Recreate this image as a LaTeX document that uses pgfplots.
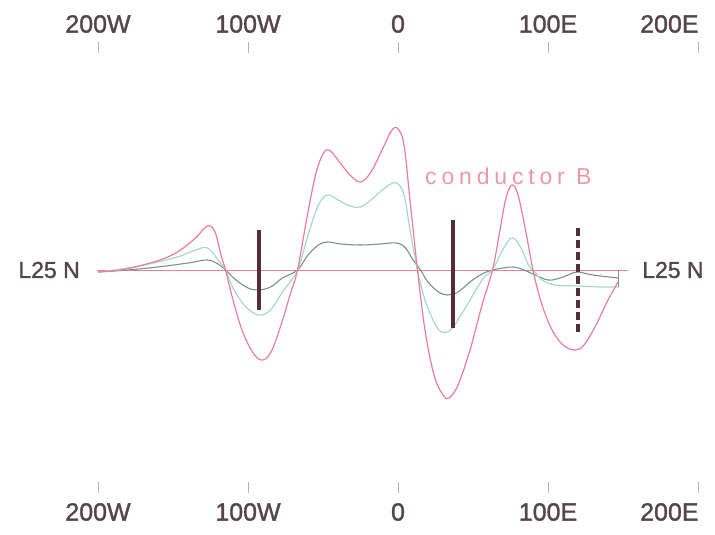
\documentclass[border=0pt]{standalone}
\usepackage{fontspec}
\setmainfont{Liberation Sans}
\newfontfamily\labfont[FakeBold=1.3]{Liberation Sans}
\newfontfamily\condfont[LetterSpace=21]{Liberation Sans}
\usepackage{pgfplots}
\pgfplotsset{compat=1.18}
\definecolor{pinkc}{RGB}{236,125,155}
\definecolor{txtpink}{RGB}{238,150,172}
\definecolor{mintc}{RGB}{165,218,198}
\definecolor{grayc}{RGB}{125,145,135}
\definecolor{barc}{RGB}{85,45,60}
\definecolor{labc}{RGB}{85,68,76}
\definecolor{tickc}{RGB}{185,178,182}
\begin{document}
\begin{tikzpicture}
\begin{axis}[
  x=1.5bp, y=1bp,
  xmin=-265.333, xmax=211.333, ymin=-265, ymax=270,
  axis lines=none, clip=false,
]
\path (axis cs:-265.333,-265) coordinate (BL);
\path (axis cs:211.333,270) coordinate (TR);
% baseline L25 N
\addplot[pinkc, line width=0.8bp] coordinates {(-201,0) (153.3,0)};
% small curve
\addplot[grayc, line width=1.1bp, smooth, tension=0.6] coordinates {
(-200,-2) (-180,0) (-160,3) (-140,7) (-127,10) (-120,6) (-115,0) (-108,-10) (-100,-18) (-93,-20) (-85,-17) (-77,-8) (-67,0) (-60,15) (-53,25) (-47,28) (-38,26) (-25,25) (-12,26) (-1,27) (5,22) (10,10) (15,0) (20,-12) (27,-22) (33,-25) (40,-22) (48,-12) (56,-4) (63,0) (70,2) (77,3) (84,0) (90,-4) (100,-10) (108,-8) (115,-4) (120,-2) (130,-5) (146.7,-8)};
% medium curve
\addplot[mintc, line width=1.2bp, smooth, tension=0.6] coordinates {
(-200,-2) (-180,2) (-160,8) (-145,14) (-135,20) (-127,22) (-120,10) (-115,0) (-110,-18) (-102,-36) (-93,-45) (-85,-40) (-77,-22) (-67,0) (-60,35) (-53,65) (-47,75) (-40,70) (-32,64) (-25,63) (-18,70) (-8,83) (-1,87) (4,75) (8,40) (13,0) (18,-30) (24,-52) (29,-62) (35,-60) (42,-45) (50,-25) (57,-8) (63,0) (68,15) (73,28) (77,32) (82,22) (87,5) (90,0) (96,-10) (105,-15) (120,-16) (135,-17) (146.7,-17)};
% large curve (conductor B)
\addplot[pinkc, line width=1.2bp, smooth, tension=0.6] coordinates {
(-200,-2) (-185,0) (-170,5) (-155,12) (-145,20) (-135,32) (-127,44) (-122,38) (-118,15) (-115,0) (-110,-30) (-104,-60) (-97,-82) (-91,-90) (-85,-83) (-78,-55) (-72,-25) (-67,0) (-61,50) (-55,95) (-50,116) (-46,120) (-40,110) (-32,95) (-25,88) (-18,98) (-10,122) (-4,140) (0,141) (4,125) (8,70) (13,0) (18,-60) (24,-105) (30,-125) (34,-128) (40,-115) (48,-80) (56,-35) (63,0) (68,40) (72,72) (76,85) (80,75) (85,40) (90,0) (95,-30) (102,-58) (110,-75) (118,-80) (124,-75) (132,-55) (140,-30) (146.7,-12)};
\addplot[grayc, line width=0.8bp] coordinates {(146.7,0) (146.7,-17)};
% vertical bars
\addplot[barc, line width=3.5bp] coordinates {(-92.7,40) (-92.7,-40)};
\addplot[barc, line width=3.5bp] coordinates {(36.7,50) (36.7,-58)};
\addplot[barc, line width=3.5bp, dash pattern=on 8bp off 4bp] coordinates {(120,42) (120,-62)};
% tick marks
\foreach \t in {-200,-100,0,100,200} {
  \edef\tmp{\noexpand\addplot[tickc, line width=0.9bp] coordinates {(\t,228) (\t,217)};}\tmp
  \edef\tmp{\noexpand\addplot[tickc, line width=0.9bp] coordinates {(\t,-212) (\t,-223)};}\tmp
}
% labels
\foreach \t/\l in {-200/200W,-100/100W,0/0,100/100E} {
  \edef\tmp{\noexpand\node[text=labc, font=\noexpand\labfont\noexpand\fontsize{25bp}{27bp}\noexpand\selectfont, inner sep=0pt] at (axis cs:\t,246) {\l};}\tmp
  \edef\tmp{\noexpand\node[text=labc, font=\noexpand\labfont\noexpand\fontsize{25bp}{27bp}\noexpand\selectfont, inner sep=0pt] at (axis cs:\t,-242) {\l};}\tmp
}
\node[text=labc, font=\labfont\fontsize{25bp}{27bp}\selectfont, inner sep=0pt, anchor=east] at (axis cs:200.5,246) {200E};
\node[text=labc, font=\labfont\fontsize{25bp}{27bp}\selectfont, inner sep=0pt, anchor=east] at (axis cs:200.5,-242) {200E};
\node[text=labc, font=\labfont\fontsize{23bp}{25bp}\selectfont, anchor=east, inner sep=0pt] at (axis cs:-212,0) {L25 N};
\node[text=labc, font=\labfont\fontsize{23bp}{25bp}\selectfont, anchor=west, inner sep=0pt] at (axis cs:162.7,0) {L25 N};
\node[text=txtpink, font=\condfont\fontsize{23bp}{25bp}\selectfont, anchor=base west, inner sep=0pt] at (axis cs:18,85) {conductor B};
\end{axis}
\pgfresetboundingbox
\useasboundingbox (BL) rectangle (TR);
\end{tikzpicture}
\end{document}
